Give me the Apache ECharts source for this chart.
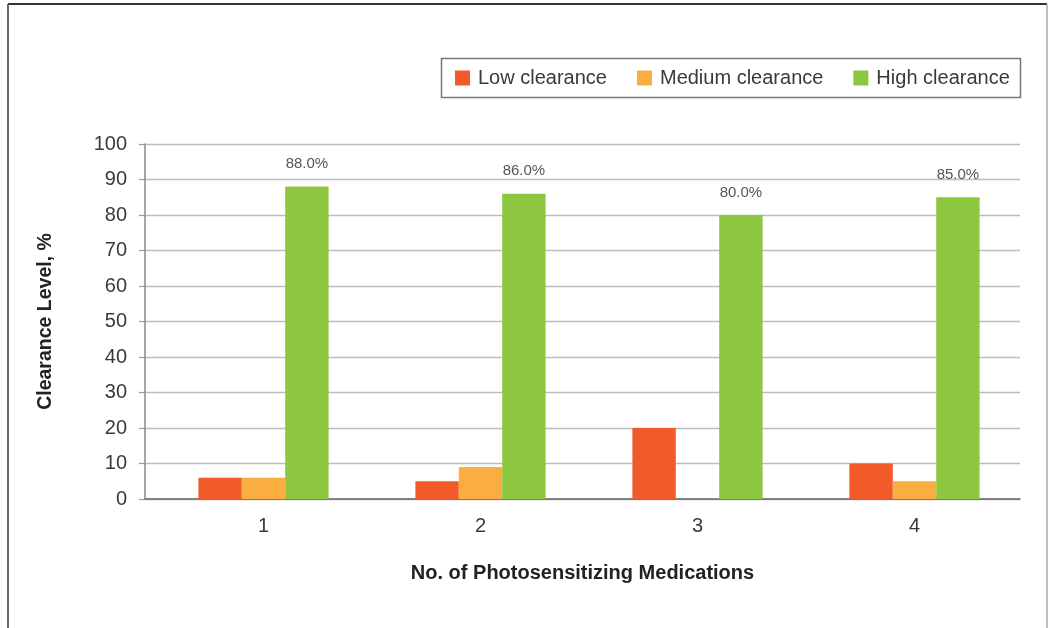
<!DOCTYPE html>
<html>
<head>
<meta charset="utf-8">
<script src="https://cdn.jsdelivr.net/npm/echarts@6/dist/echarts.min.js"></script>
<style>
  html, body { margin: 0; padding: 0; background: #fff; }
  #chart { width: 1048px; height: 628px; }
</style>
</head>
<body>
<div id="chart"></div>
<script>
// Number of photosensitizing medications per patient
const categories = ['1', '2', '3', '4'];
// Share of patients at each clearance level, %
const lowClearance = [6, 5, 20, 10];
const mediumClearance = [6, 9, 0, 5];
const highClearance = [88, 86, 80, 85];
// Value-axis ticks
const yMin = 0, yMax = 100, yStep = 10;

const seriesNames = ['Low clearance', 'Medium clearance', 'High clearance'];
const seriesColors = ['#F15A29', '#FBAE40', '#8DC63F'];

const font = 'Liberation Sans, Arial, Helvetica, sans-serif';

const chart = echarts.init(document.getElementById('chart'), null, { renderer: 'canvas' });

chart.setOption({
  backgroundColor: '#ffffff',
  animation: false,
  textStyle: { fontFamily: font },
  graphic: [
    // page frame
    { type: 'line', shape: { x1: 8, y1: 4, x2: 1047, y2: 4 }, style: { stroke: '#333', lineWidth: 2 } },
    { type: 'line', shape: { x1: 8, y1: 4, x2: 8, y2: 628 }, style: { stroke: '#666', lineWidth: 2 } },
    { type: 'line', shape: { x1: 1047, y1: 4, x2: 1047, y2: 628 }, style: { stroke: '#aaa', lineWidth: 1.5 } },
    // legend box
    { type: 'rect', shape: { x: 441.5, y: 58.5, width: 579, height: 39 }, style: { fill: 'none', stroke: '#777', lineWidth: 1.5 } }
  ],
  legend: {
    data: seriesNames,
    left: 455,
    top: 68,
    icon: 'rect',
    itemWidth: 15,
    itemHeight: 15,
    itemGap: 30,
    padding: 0,
    textStyle: { fontSize: 20, color: '#3a3a3a', fontFamily: font, padding: [0, 0, 0, 3] }
  },
  // grid 0 carries the value scale, gridlines and axis lines; grid 1 carries the bars
  grid: [
    { left: 145, right: 28, top: 144, bottom: 129 },
    { left: 155, right: 25, top: 144, bottom: 129 }
  ],
  xAxis: [
    {
      type: 'category', gridIndex: 0, data: categories,
      name: 'No. of Photosensitizing Medications',
      nameLocation: 'middle',
      nameGap: 64,
      nameTextStyle: { fontSize: 20, fontWeight: 'bold', color: '#222', fontFamily: font },
      axisLine: { lineStyle: { color: '#666', width: 1.5 } },
      axisTick: { show: false },
      axisLabel: { show: false }
    },
    {
      type: 'category', gridIndex: 1, data: categories,
      axisLine: { show: false },
      axisTick: { show: false },
      axisLabel: { fontSize: 20, color: '#3a3a3a', margin: 17, fontFamily: font }
    }
  ],
  yAxis: [
    {
      type: 'value', gridIndex: 0,
      min: yMin, max: yMax, interval: yStep,
      name: 'Clearance Level, %',
      nameLocation: 'middle',
      nameGap: 89,
      nameRotate: 90,
      nameTextStyle: { fontSize: 19.5, fontWeight: 'bold', color: '#222', fontFamily: font },
      axisLine: { show: true, lineStyle: { color: '#888', width: 1.5 } },
      axisTick: { show: true, length: 6, lineStyle: { color: '#999', width: 1.2 } },
      axisLabel: { fontSize: 20, color: '#3a3a3a', margin: 18, fontFamily: font },
      splitLine: { lineStyle: { color: '#bdbdbd', width: 1.3 } }
    },
    {
      type: 'value', gridIndex: 1,
      min: yMin, max: yMax, interval: yStep,
      show: false,
      splitLine: { show: false }
    }
  ],
  series: [
    {
      name: seriesNames[0], type: 'bar', data: lowClearance,
      xAxisIndex: 1, yAxisIndex: 1,
      itemStyle: { color: seriesColors[0] },
      barGap: '0%', barCategoryGap: '40%'
    },
    {
      name: seriesNames[1], type: 'bar', data: mediumClearance,
      xAxisIndex: 1, yAxisIndex: 1,
      itemStyle: { color: seriesColors[1] }
    },
    {
      name: seriesNames[2], type: 'bar', data: highClearance,
      xAxisIndex: 1, yAxisIndex: 1,
      itemStyle: { color: seriesColors[2] },
      label: {
        show: true, position: 'top', distance: 15,
        fontSize: 15, color: '#555', fontFamily: font,
        formatter: p => p.value.toFixed(1) + '%'
      }
    }
  ]
});
</script>
</body>
</html>
